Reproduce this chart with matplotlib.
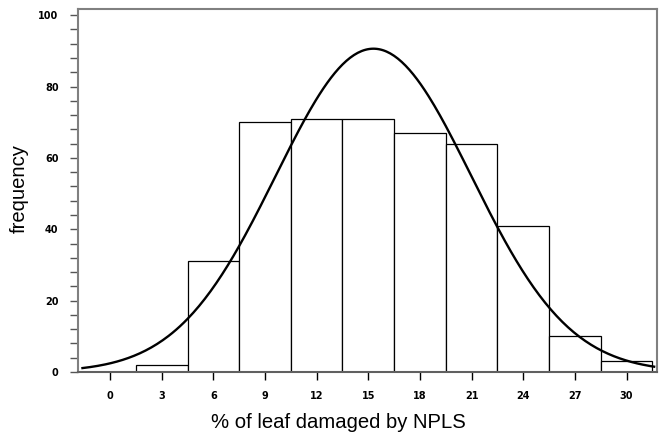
import numpy as np
import matplotlib
matplotlib.use('Agg')
import matplotlib.pyplot as plt
import matplotlib.ticker as ticker

# histogram bins (centres, % leaf damaged) and counts
bin_centres = [3, 6, 9, 12, 15, 18, 21, 24, 27, 30]
counts = [2, 31, 70, 71, 71, 67, 64, 41, 10, 3]
bin_width = 3

# fitted normal curve parameters
curve_mean = 15.3
curve_sd = 5.68

x_ticks = list(range(0, 31, 3))
y_ticks = [0, 20, 40, 60, 80, 100]

fig = plt.figure(figsize=(6.61, 4.34), dpi=100)
ax = fig.add_axes([0.118, 0.143, 0.876, 0.836])

ax.bar(bin_centres, counts, width=bin_width, color='white', edgecolor='black',
       linewidth=0.9, zorder=2)

n_total = sum(counts)
xs = np.linspace(-1.6, 31.6, 300)
ys = n_total * bin_width / (curve_sd * np.sqrt(2 * np.pi)) * np.exp(-0.5 * ((xs - curve_mean) / curve_sd) ** 2)
ax.plot(xs, ys, color='black', linewidth=1.7, zorder=3)

ax.set_xlim(-1.86, 31.77)
ax.set_ylim(0, 101.7)

ax.set_xticks(x_ticks)
ax.set_yticks(y_ticks)
ax.yaxis.set_minor_locator(ticker.MultipleLocator(4))
ax.tick_params(axis='both', which='both', direction='out', length=6, width=1,
               color='black', labelsize=7, pad=8)
ax.tick_params(axis='y', which='both', color='#555555')
for lab in ax.get_xticklabels() + ax.get_yticklabels():
    lab.set_fontweight('bold')

for side in ['left', 'top', 'right', 'bottom']:
    ax.spines[side].set_color('#808080')
    ax.spines[side].set_linewidth(1.5)
ax.spines['bottom'].set_color('#606060')

ax.set_xlabel('% of leaf damaged by NPLS', fontsize=14.6, family='Liberation Sans')
ax.set_ylabel('frequency', fontsize=14.6, family='Liberation Sans')
ax.xaxis.set_label_coords(0.449, -0.112)
ax.yaxis.set_label_coords(-0.085, 0.505)

plt.savefig('out.png', dpi=100)
